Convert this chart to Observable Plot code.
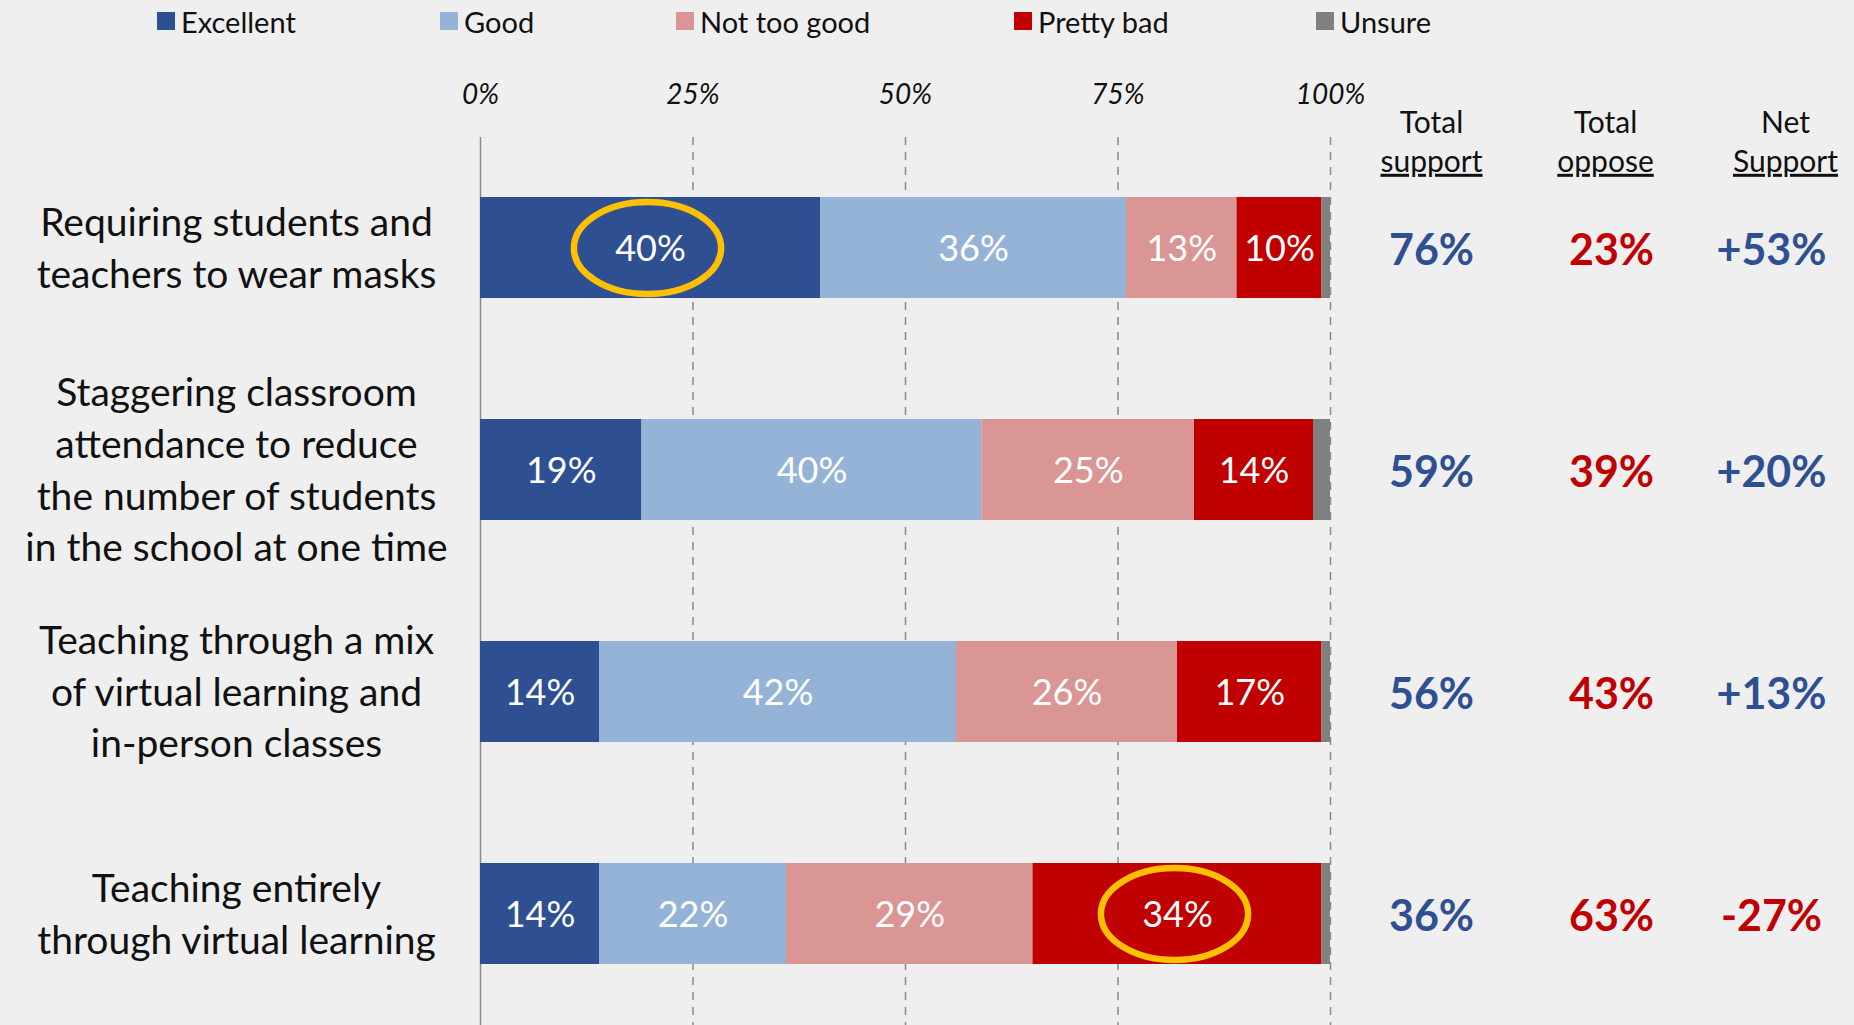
<!DOCTYPE html>
<html>
<head>
<meta charset="utf-8">
<script src="https://cdn.jsdelivr.net/npm/d3@7"></script>
<script src="https://cdn.jsdelivr.net/npm/@observablehq/plot@0.6"></script>
<style>
  html, body { margin: 0; padding: 0; background: #EFEFEF; font-family: Lato, "Open Sans", sans-serif; }
  #legend { position: relative; height: 42px; width: 1854px; }
  .item { position: absolute; top: 0; height: 42px; display: flex; align-items: center; font-size: 29px; color: #111; }
  .sw { width: 18px; height: 18px; margin-right: 6px; }
  svg { display: block; }
</style>
</head>
<body>
<div id="legend"></div>
<div id="chart"></div>
<script>
// ---- data ----
const categories = [
  "Requiring students and\nteachers to wear masks",
  "Staggering classroom\nattendance to reduce\nthe number of students\nin the school at one time",
  "Teaching through a mix\nof virtual learning and\nin-person classes",
  "Teaching entirely\nthrough virtual learning"
];
const ratings = ["Excellent", "Good", "Not too good", "Pretty bad", "Unsure"];
const excellent  = [40, 19, 14, 14];
const good       = [36, 40, 42, 22];
const notTooGood = [13, 25, 26, 29];
const prettyBad  = [10, 14, 17, 34];
const unsure     = [1, 2, 1, 1];
const totalSupport = [76, 59, 56, 36];
const totalOppose  = [23, 39, 43, 63];
const netSupport   = [53, 20, 13, -27];
const ticks = [0, 25, 50, 75, 100];
const headerTop    = ["Total", "Total", "Net"];
const headerBottom = ["support", "oppose", "Support"];
// highlighted segments (row index, rating)
const highlights = [[0, "Excellent"], [3, "Pretty bad"]];

const colors = ["#2F4F93", "#95B3D7", "#D99694", "#C00000", "#808080"];
const BLUE = "#2F4F93", RED = "#C00000";

// ---- build table ----
const series = [excellent, good, notTooGood, prettyBad, unsure];
const rows = [];
categories.forEach((c, i) => {
  ratings.forEach((r, j) => rows.push({category: c, rating: r, value: series[j][i]}));
});
const hl = highlights.map(([i, r]) => {
  const j = ratings.indexOf(r);
  let start = 0;
  for (let k = 0; k < j; ++k) start += series[k][i];
  return {category: categories[i], mid: start + series[j][i] / 2};
});

// ---- legend ----
const legendX = [157, 440, 676, 1014, 1316];
const leg = document.getElementById("legend");
ratings.forEach((r, i) => {
  const d = document.createElement("div");
  d.className = "item";
  d.style.left = legendX[i] + "px";
  d.innerHTML = `<span class="sw" style="background:${colors[i]}"></span><span>${r}</span>`;
  leg.appendChild(d);
});

// ellipse symbol
const ellipse = {
  draw(ctx, size) {
    const r = Math.sqrt(size / Math.PI), rx = r * 1.6, ry = r, k = 0.5522848;
    ctx.moveTo(rx, 0);
    ctx.bezierCurveTo(rx, ry * k, rx * k, ry, 0, ry);
    ctx.bezierCurveTo(-rx * k, ry, -rx, ry * k, -rx, 0);
    ctx.bezierCurveTo(-rx, -ry * k, -rx * k, -ry, 0, -ry);
    ctx.bezierCurveTo(rx * k, -ry, rx, -ry * k, rx, 0);
    ctx.closePath();
  }
};

const headDx = [101, 275, 455];
const valDx = [101, 281, 441];
const headerMarks = [];
headerTop.forEach((t, i) => {
  headerMarks.push(Plot.text([t], {frameAnchor: "top-right", textAnchor: "middle", dx: headDx[i], dy: -26, fontSize: 30, fill: "#111"}));
  headerMarks.push(Plot.text([headerBottom[i]], {frameAnchor: "top-right", textAnchor: "middle", dx: headDx[i], dy: 13, fontSize: 30, fill: "#111"}));
});
const valueOpts = {y: d => d, frameAnchor: "right", textAnchor: "middle", fontWeight: "bold", fontSize: 43, dy: 3};

const chart = Plot.plot({
  width: 1854,
  height: 983,
  marginLeft: 480,
  marginRight: 524,
  marginTop: 95,
  marginBottom: 0,
  style: {fontFamily: "Lato, 'Open Sans', sans-serif", background: "#EFEFEF", overflow: "visible"},
  x: {domain: [0, 100], axis: null},
  y: {domain: categories, axis: null, paddingInner: 0.543, paddingOuter: 0.265},
  color: {domain: ratings, range: colors},
  marks: [
    Plot.ruleX([0], {stroke: "#8a8a8a", strokeWidth: 1.5}),
    Plot.ruleX(ticks.slice(1), {stroke: "#8a8a8a", strokeWidth: 1.5, strokeDasharray: "8,7"}),
    Plot.axisX(ticks, {anchor: "top", tickSize: 0, tickPadding: 34, tickFormat: d => d + "%", fontSize: 28, fontStyle: "italic", fill: "#111", label: null}),
    Plot.barX(rows, Plot.stackX({x: "value", y: "category", fill: "rating", order: ratings})),
    Plot.text(rows, Plot.stackX({x: "value", y: "category", z: "rating", order: ratings,
      text: d => d.value >= 5 ? d.value + "%" : "", fill: "white", fontSize: 36, dy: 1})),
    Plot.dot(hl, {x: "mid", y: "category", r: 46, symbol: ellipse, stroke: "#FFC000", strokeWidth: 6.5, fill: "none", dx: -3}),
    Plot.text(categories, {y: d => d, text: d => d, frameAnchor: "left", dx: -244, dy: -3, textAnchor: "middle",
      fontSize: 39, lineHeight: 1.33, fill: "#111"}),
    ...headerMarks,
    Plot.text(categories, {...valueOpts, text: (d, i) => totalSupport[i] + "%", dx: valDx[0], fill: BLUE}),
    Plot.text(categories, {...valueOpts, text: (d, i) => totalOppose[i] + "%", dx: valDx[1], fill: RED}),
    Plot.text(categories, {...valueOpts, filter: (d, i) => netSupport[i] >= 0, text: (d, i) => "+" + netSupport[i] + "%",
      dx: valDx[2], fill: BLUE}),
    Plot.text(categories, {...valueOpts, filter: (d, i) => netSupport[i] < 0, text: (d, i) => "-" + Math.abs(netSupport[i]) + "%",
      dx: valDx[2], fill: RED})
  ]
});
d3.select(chart).selectAll("text").filter(function() { return headerBottom.includes(this.textContent); })
  .style("text-decoration", "underline");
document.getElementById("chart").appendChild(chart);
</script>
</body>
</html>
